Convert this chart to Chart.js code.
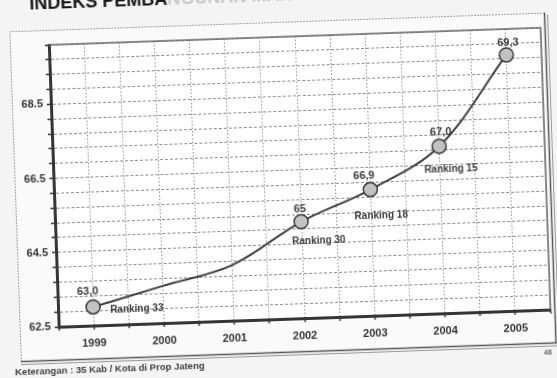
<!DOCTYPE html>
<html lang="id">
<head>
<meta charset="UTF-8">
<title>Indeks Pembangunan Manusia</title>
<script src="https://cdn.jsdelivr.net/npm/chart.js"></script>
<style>
  html, body { margin: 0; padding: 0; background: #f3f4f6; overflow: hidden; }
  #page { position: relative; width: 557px; height: 378px; transform: rotate(-2deg); transform-origin: 278px 189px; }
  #title { position: absolute; left: 36px; top: -15px; line-height: 20px; font: bold 18px "Liberation Sans", Arial, sans-serif; color: #151515; white-space: nowrap; }
  #title .faded { color: #c9c9c9; }
  #note { position: absolute; left: 9px; top: 357px; font: bold 9.5px "Liberation Sans", Arial, sans-serif; color: #3d3d3d; white-space: nowrap; }
  #pageno { position: absolute; left: 538px; top: 358px; font: bold 7px "Liberation Sans", Arial, sans-serif; color: #666; }
  canvas { position: absolute; left: 0; top: 0; }
</style>
</head>
<body>
<div id="page">
  <canvas id="ipmChart" width="557" height="378"></canvas>
  <div id="title">INDEKS PEMBA<span class="faded">NGUNAN MANUSIA</span></div>
  <div id="note">Keterangan : 35 Kab / Kota di Prop Jateng</div>
  <div id="pageno">48</div>
</div>

<script>
  // data
  const years = [1999, 2000, 2001, 2002, 2003, 2004, 2005];
  const ipmValues = [63.0, 63.5, 64.0, 65.1, 65.9, 67.0, 69.4];
  const valueLabels = ['63,0', '', '', '65', '66,9', '67,0', '69,3'];
  const rankLabels = ['Ranking 33', '', '', 'Ranking 30', 'Ranking 18', 'Ranking 15', ''];
  const yTickLabels = [62.5, 64.5, 66.5, 68.5];

  // where each annotation sits relative to its marker
  const valueOffsets = [[-5, -15], null, null, [-1, -13], [-6, -14], [2, -14], [2, -12]];
  const rankOffsets = [[17, 4, 'left'], null, null, [17, 20, 'center'], [10, 26, 'center'], [11, 23, 'center'], null];

  const ink = '#3a3333';
  const font = '"Liberation Sans", Arial, sans-serif';

  const framePlugin = {
    id: 'frame',
    beforeDraw(chart) {
      const { ctx, chartArea: a } = chart;
      ctx.save();
      ctx.fillStyle = '#fafafa';
      ctx.fillRect(15, 22, 538, 331);
      ctx.fillStyle = '#ffffff';
      ctx.fillRect(a.left, a.top, a.right - a.left, a.bottom - a.top);
      // outer frame
      ctx.strokeStyle = '#a0a0a0';
      ctx.lineWidth = 1;
      ctx.setLineDash([2, 1]);
      ctx.beginPath();
      ctx.moveTo(15.5, 353); ctx.lineTo(15.5, 22.5); ctx.lineTo(551, 22.5);
      ctx.stroke();
      ctx.setLineDash([]);
      ctx.strokeStyle = '#555';
      ctx.lineWidth = 1.5;
      ctx.beginPath();
      ctx.moveTo(15, 352.5); ctx.lineTo(553, 352.5);
      ctx.moveTo(550.5, 22); ctx.lineTo(550.5, 352);
      ctx.stroke();
      ctx.strokeStyle = '#999';
      ctx.lineWidth = 1;
      ctx.beginPath();
      ctx.moveTo(15, 355.5); ctx.lineTo(555, 355.5);
      ctx.moveTo(553.5, 24); ctx.lineTo(553.5, 355);
      ctx.stroke();
      ctx.restore();
    },
    beforeDatasetsDraw(chart) {
      const { ctx, chartArea: a } = chart;
      ctx.save();
      ctx.strokeStyle = '#6a6a6a';
      ctx.lineWidth = 1.5;
      ctx.beginPath();
      ctx.moveTo(a.left, a.top); ctx.lineTo(a.right, a.top); ctx.lineTo(a.right, a.bottom);
      ctx.stroke();
      ctx.restore();
    }
  };

  const annotationPlugin = {
    id: 'annotations',
    afterDatasetsDraw(chart) {
      const { ctx } = chart;
      const pts = chart.getDatasetMeta(0).data;
      ctx.save();
      ctx.fillStyle = '#3c3c3c';
      ctx.textBaseline = 'middle';
      pts.forEach((p, i) => {
        if (valueLabels[i] && valueOffsets[i]) {
          ctx.font = 'bold 11px ' + font;
          ctx.textAlign = 'center';
          ctx.fillText(valueLabels[i], p.x + valueOffsets[i][0], p.y + valueOffsets[i][1]);
        }
        if (rankLabels[i] && rankOffsets[i]) {
          ctx.font = 'bold 10px ' + font;
          ctx.textAlign = rankOffsets[i][2];
          ctx.fillText(rankLabels[i], p.x + rankOffsets[i][0], p.y + rankOffsets[i][1]);
        }
      });
      ctx.restore();
    }
  };

  new Chart(document.getElementById('ipmChart'), {
    type: 'line',
    data: {
      datasets: [{
        data: years.map((y, i) => ({ x: y, y: ipmValues[i] })),
        borderColor: '#3d3d3d',
        borderWidth: 2,
        tension: 0.35,
        pointRadius: valueLabels.map(v => v ? 7 : 0),
        pointBackgroundColor: '#c2c2c2',
        pointBorderColor: '#3a3a3a',
        pointBorderWidth: 1.5
      }]
    },
    options: {
      responsive: false,
      animation: false,
      events: [],
      layout: { padding: { left: 14, right: 11, top: 37, bottom: 29 } },
      plugins: { legend: { display: false }, tooltip: { enabled: false } },
      scales: {
        x: {
          type: 'linear',
          min: 1998.5,
          max: 2005.5,
          afterFit: s => { s.height = 30; },
          ticks: {
            stepSize: 0.5,
            autoSkip: false,
            maxRotation: 0,
            padding: 7,
            color: ink,
            font: { family: font, size: 11, weight: 'bold' },
            callback: v => Number.isInteger(v) ? String(v) : ''
          },
          grid: { color: 'rgba(80,80,80,0.65)', lineWidth: 1, tickLength: 4, tickWidth: 1.5, tickColor: ink, tickBorderDash: [] },
          border: { color: ink, width: 3, dash: [1.5, 2] }
        },
        y: {
          min: 62.5,
          max: 70.1,
          afterFit: s => { s.width = 40; },
          ticks: {
            stepSize: 0.4,
            autoSkip: false,
            padding: 4,
            color: ink,
            font: { family: font, size: 11, weight: 'bold' },
            callback: v => yTickLabels.some(t => Math.abs(t - v) < 1e-6) ? v.toFixed(1) : ''
          },
          grid: { color: 'rgba(80,80,80,0.65)', lineWidth: 1, tickLength: 4, tickWidth: 1.5, tickColor: ink, tickBorderDash: [] },
          border: { color: ink, width: 3, dash: [3, 2] }
        }
      }
    },
    plugins: [framePlugin, annotationPlugin]
  });
</script>
</body>
</html>
